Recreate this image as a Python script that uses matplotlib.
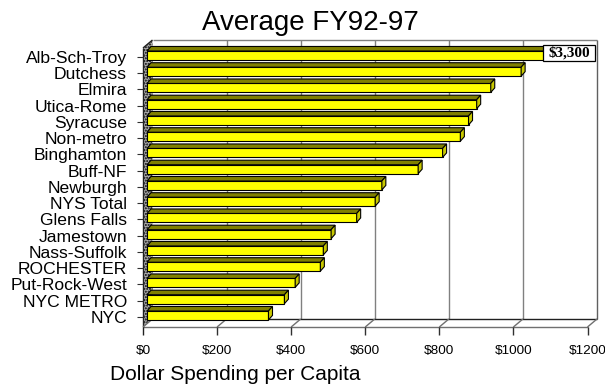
import matplotlib
matplotlib.use('Agg')
import matplotlib.pyplot as plt
import matplotlib.transforms as mtransforms
from matplotlib.patches import Polygon
from matplotlib.lines import Line2D

plt.rcParams['font.family'] = ['Liberation Sans', 'DejaVu Sans']
plt.rcParams['hatch.linewidth'] = 1.0

# ---- data ----
categories = ['NYC', 'NYC METRO', 'Put-Rock-West', 'ROCHESTER', 'Nass-Suffolk',
              'Jamestown', 'Glens Falls', 'NYS Total', 'Newburgh', 'Buff-NF',
              'Binghamton', 'Non-metro', 'Syracuse', 'Utica-Rome', 'Elmira',
              'Dutchess', 'Alb-Sch-Troy']
values = [328, 371, 400, 468, 476, 497, 566, 616, 634, 732, 798, 846, 868,
          890, 928, 1010, 3300]
xticks = [0, 200, 400, 600, 800, 1000, 1200]
xtick_labels = ['$0', '$200', '$400', '$600', '$800', '$1000', '$1200']
title = 'Average FY92-97'
xlabel = 'Dollar Spending per Capita'
value_label = '$3,300'
xmax = 1200

# ---- layout ----
W, H = 605, 389
fig = plt.figure(figsize=(W / 100, H / 100), dpi=100)
ax = fig.add_axes([143 / W, (H - 327) / H, 444.5 / W, 279 / H])
ax.set_zorder(2)
ax.set_xlim(0, xmax)
ax.set_ylim(-0.62, 16.55)
ax.set_autoscale_on(False)
for s in ax.spines.values():
    s.set_visible(False)
ax.patch.set_visible(False)

T = ax.transData
ident = mtransforms.IdentityTransform()
DX, DY = 9.5, 8.0          # depth of the 3D box (pixels)
BX, BY = 4.0, 1.5          # bar front-face offset into depth
DDX, DDY = 4.0, 4.5        # bar depth
BH = 0.55                  # bar height (category units)
y0, y1 = ax.get_ylim()


def P(x, y, ox=0.0, oy=0.0):
    px, py = T.transform((x, y))
    return (px + ox, py + oy)


def line(pts, color, lw=1.0, z=1):
    xs, ys = zip(*pts)
    fig.add_artist(Line2D(xs, ys, transform=ident, color=color, lw=lw,
                          zorder=z, solid_capstyle='butt'))


def poly(pts, fc, ec='none', lw=0.8, z=1, **kw):
    fig.add_artist(Polygon(pts, closed=True, transform=ident, facecolor=fc,
                           edgecolor=ec, lw=lw, zorder=z, **kw))


# back wall
poly([P(0, y0, DX, DY), P(xmax, y0, DX, DY), P(xmax, y1, DX, DY),
      P(0, y1, DX, DY)], 'white', z=0.5)
for v in xticks[1:-1]:
    line([P(v, y0, DX, DY), P(v, y1, DX, DY)], '#808080', 1.0, 0.6)
line([P(0, y1, DX, DY), P(xmax, y1, DX, DY)], '#808080', 1.0, 0.7)
line([P(xmax, y0, DX, DY), P(xmax, y1, DX, DY)], '#606060', 1.0, 0.7)

# floor
poly([P(0, y0), P(xmax, y0), P(xmax, y0, DX, DY), P(0, y0, DX, DY)],
     'white', z=0.5)
line([P(0, y0, DX, DY), P(xmax, y0, DX, DY)], '#202020', 1.0, 0.7)
line([P(0, y0), P(xmax, y0)], '#707070', 1.0, 0.7)
for v in xticks[1:]:
    line([P(v, y0), P(v, y0, DX, DY)], '#707070', 1.0, 0.7)
    line([P(v, y0), P(v, y0, 0, -8)], '#303030', 1.0, 0.7)

# left wall
poly([P(0, y0), P(0, y1), P(0, y1, DX, DY), P(0, y0, DX, DY)],
     '#b0b0b0', ec='black', lw=0.0, z=0.8, hatch='......')
line([P(0, y0, 0, -8), P(0, y1)], '#202020', 1.0, 0.9)
line([P(0, y1), P(0, y1, DX, DY)], '#202020', 1.0, 0.9)
line([P(0, y0), P(0, y0, DX, DY)], '#707070', 1.0, 0.9)

# bars (front faces through the axes scale, shifted into depth)
vis = [min(v, xmax) for v in values]
ypos = list(range(len(categories)))
off = T + mtransforms.Affine2D().translate(BX, BY)
ax.barh(ypos, vis, height=BH, left=0, color='#FFFF00', edgecolor='black',
        linewidth=0.8, transform=off, clip_on=False, zorder=3)
for i, v in zip(ypos, vis):
    top = i + BH / 2
    bot = i - BH / 2
    poly([P(0, top, BX, BY), P(v, top, BX, BY),
          P(v, top, BX + DDX, BY + DDY), P(0, top, BX + DDX, BY + DDY)],
         '#808000', 'black', 0.8, 3)
    poly([P(v, bot, BX, BY), P(v, top, BX, BY),
          P(v, top, BX + DDX, BY + DDY), P(v, bot, BX + DDX, BY + DDY)],
         '#C8C800', 'black', 0.8, 3)

# value label box for the clipped bar
imax = values.index(max(values))
cx, cy = P(xmax, imax, -18.5, 4)
poly([(cx - 26, cy - 8), (cx + 26, cy - 8), (cx + 26, cy + 8), (cx - 26, cy + 8)],
     'white', 'black', 0.9, 5)
fig.text(cx / W, cy / H, value_label, ha='center', va='center',
         family=['Liberation Serif'], weight='bold', fontsize=11, zorder=6)

# axes ticks & labels
ax.set_yticks(ypos)
ax.set_yticklabels(categories, fontsize=12.6)
ax.tick_params(axis='y', length=4.5, width=0.8, color='#303030', pad=7)
ax.set_xticks(xticks)
ax.set_xticklabels(xtick_labels, fontsize=9.7)
ax.tick_params(axis='x', length=0, pad=12.8)

fig.text(310 / W, (H - 30) / H, title, ha='center', va='baseline', fontsize=20)
fig.text(235 / W, (H - 380) / H, xlabel, ha='center', va='baseline', fontsize=15)

fig.savefig('out.png', dpi=100)
